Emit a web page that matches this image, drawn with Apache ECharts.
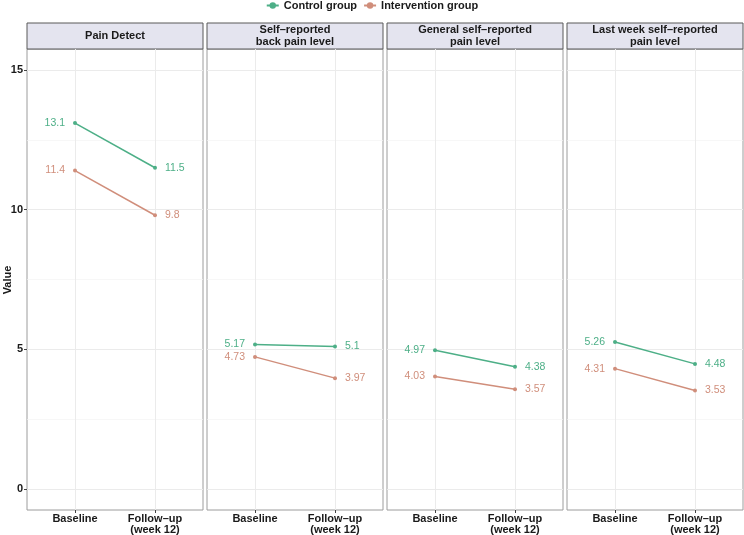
<!DOCTYPE html>
<html>
<head>
<meta charset="UTF-8">
<script src="https://cdn.jsdelivr.net/npm/echarts@6/dist/echarts.min.js"></script>
</head>
<body style="margin:0">
<div id="main" style="width:744px;height:535px;"></div>
<script>
// panels (facets), time points, groups
var panels = ['Pain Detect', 'Self–reported\nback pain level', 'General self–reported\npain level', 'Last week self–reported\npain level'];
var timepoints = ['Baseline', 'Follow–up\n(week 12)'];
var groups = ['Control group', 'Intervention group'];
// values per panel: [baseline, follow-up]
var controlVals = [[13.1, 11.5], [5.17, 5.1], [4.97, 4.38], [5.26, 4.48]];
var interventionVals = [[11.4, 9.8], [4.73, 3.97], [4.03, 3.57], [4.31, 3.53]];
var xPos = [1, 2];
var yTicks = [0, 5, 10, 15];
var yMinorTicks = [2.5, 7.5, 12.5];

var colors = ['#4DAF87', '#D08E7B'];
var font = 'Liberation Sans, Arial, sans-serif';

var chart = echarts.init(document.getElementById('main'));

var grids = [], xAxes = [], yAxes = [], series = [], graphics = [];
for (var i = 0; i < panels.length; i++) {
    var left = 27 + 180 * i;
    grids.push({left: left, width: 176, top: 49, height: 461, show: true, outerBoundsMode: 'none', containLabel: false,
        borderColor: '#9c9c9c', borderWidth: 1, backgroundColor: '#fff'});
    xAxes.push({
        type: 'value', gridIndex: i, min: 0.4, max: 2.6,
        axisLine: {show: false, onZero: false},
        axisTick: {show: true, customValues: xPos, length: 3, lineStyle: {color: '#444'}},
        axisLabel: {customValues: xPos, margin: 3, fontFamily: font, fontWeight: 'bold', fontSize: 11, color: '#1a1a1a', lineHeight: 11,
            formatter: function (v) { return timepoints[Math.round(v) - 1]; }},
        splitLine: {show: true, lineStyle: {color: '#ebebeb', width: 1}}
    });
    yAxes.push({
        type: 'value', gridIndex: i, min: -0.75, max: 15.75,
        axisLine: {show: false, onZero: false},
        axisTick: {show: i === 0, customValues: yTicks, length: 3, lineStyle: {color: '#444'}},
        axisLabel: {show: i === 0, customValues: yTicks, margin: 4, fontFamily: font, fontWeight: 'bold', fontSize: 11, color: '#1a1a1a'},
        splitLine: {show: true, lineStyle: {color: '#ebebeb', width: 1}}
    });
    yAxes.push({
        type: 'value', gridIndex: i, min: -0.75, max: 15.75,
        axisLine: {show: false, onZero: false},
        axisTick: {show: false, customValues: yMinorTicks},
        axisLabel: {show: false, customValues: yMinorTicks},
        splitLine: {show: true, lineStyle: {color: '#f4f4f4', width: 0.7}}
    });
    [controlVals, interventionVals].forEach(function (vals, g) {
        series.push({
            name: groups[g], type: 'line', xAxisIndex: i, yAxisIndex: 2 * i,
            symbol: 'circle', symbolSize: 4, color: colors[g],
            lineStyle: {width: 1.5, color: colors[g]},
            label: {show: true, fontFamily: font, fontSize: 10.5, color: colors[g], distance: 8,
                formatter: function (p) { return String(p.value[1]); }},
            data: xPos.map(function (x, k) {
                return {value: [x, vals[i][k]], label: {position: k === 0 ? 'left' : 'right'}};
            })
        });
    });
    graphics.push({type: 'rect', shape: {x: left, y: 23, width: 176, height: 26},
        style: {fill: '#e4e4ef', stroke: '#595959', lineWidth: 1}});
    graphics.push({type: 'text', x: left + 88, y: 36,
        style: {text: panels[i], align: 'center', verticalAlign: 'middle', font: 'bold 11px ' + font, fill: '#1a1a1a', lineHeight: 12}});
}
// y axis title
graphics.push({type: 'text', x: 8, y: 280, rotation: Math.PI / 2,
    style: {text: 'Value', align: 'center', verticalAlign: 'middle', font: 'bold 11px ' + font, fill: '#1a1a1a'}});

var option = {
    animation: false,
    backgroundColor: '#fff',
    color: colors,
    legend: {
        data: groups, top: 0, padding: 0, left: 'center', itemWidth: 12, itemHeight: 8, itemGap: 6,
        textStyle: {fontFamily: font, fontWeight: 'bold', fontSize: 11, color: '#1a1a1a'}
    },
    grid: grids,
    xAxis: xAxes,
    yAxis: yAxes,
    series: series,
    graphic: graphics
};
chart.setOption(option);
</script>
</body>
</html>
